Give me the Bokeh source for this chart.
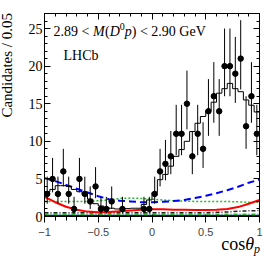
import numpy as np
from bokeh.plotting import figure
from bokeh.models import Range1d, LinearAxis, FixedTicker, Label, Div
from bokeh.layouts import column, row
from bokeh.embed import file_html
from bokeh.resources import INLINE

# ---- data ----
bin_edges = [round(-1 + 0.05 * i, 3) for i in range(41)]
counts = [3, 5, 3, 6, 3, 1, 5, 3, 2, 4,
          1, 1, 2, 0, 1, 0, 0, 0, 1, 1,
          3, 6, 7, 8, 11, 11, 15, 8, 11, 9,
          14, 16, 14, 20, 20, 19, 21, 12, 16, 11]
fit_total = [3.3, 3.6, 4.1, 4.1, 4.0, 3.6, 3.3, 2.9, 2.3, 1.7,
             1.4, 1.2, 1.1, 1.0, 1.0, 1.05, 1.1, 1.1, 1.6, 2.2,
             3.2, 4.9, 5.6, 6.7, 8.0, 8.9, 10.0, 11.3, 12.4, 13.3,
             14.1, 15.2, 16.4, 17.0, 17.7, 17.0, 16.6, 15.5, 14.8, 13.9]
curve_x = [-1.0, -0.9, -0.8, -0.7, -0.6, -0.5, -0.4, -0.3, -0.2, -0.1, 0.0,
           0.1, 0.2, 0.3, 0.4, 0.5, 0.6, 0.7, 0.8, 0.9, 1.0]
blue_dashed = [5.1, 4.7, 4.2, 3.7, 3.2, 2.7, 2.3, 2.1, 2.0, 1.9, 1.9,
               1.95, 2.05, 2.2, 2.45, 2.75, 3.1, 3.5, 3.95, 4.5, 4.9]
red_solid = [2.6, 1.9, 1.3, 0.9, 0.65, 0.55, 0.6, 0.7, 0.8, 0.9, 0.95,
             0.95, 0.9, 0.9, 0.85, 0.85, 0.9, 1.0, 1.25, 1.7, 2.2]
green_dotted = [2.0, 2.0, 2.0, 2.0, 2.0, 2.1, 2.2, 2.4, 2.45, 2.4, 2.3,
                2.2, 2.1, 2.05, 2.0, 2.0, 2.0, 2.0, 1.95, 1.9, 1.9]
black_dashdot = [0.5, 0.5, 0.5, 0.5, 0.5, 0.5, 0.5, 0.5, 0.5, 0.5, 0.5,
                 0.5, 0.5, 0.5, 0.5, 0.5, 0.55, 0.6, 0.7, 0.75, 0.8]
green_dashdot = [0.3] * 21
blue_solid = [0.1] * 21
x_ticks = [-1, -0.5, 0, 0.5, 1]
x_tick_labels = ["\u22121", "\u22120.5", "0", "0.5", "1"]
y_ticks = [0, 5, 10, 15, 20, 25]
y_tick_labels = ["0", "5", "10", "15", "20", "25"]
y_title = "Candidates / 0.05"

FONT = "Liberation Serif"
YDIV_W = 14

p = figure(width=274 - YDIV_W, height=238, x_range=Range1d(-1, 1), y_range=Range1d(0, 27),
           output_backend="svg", toolbar_location=None, margin=0,
           min_border_left=44 - YDIV_W, min_border_right=15, min_border_top=13, min_border_bottom=21)
p.xgrid.visible = False
p.ygrid.visible = False
p.outline_line_color = "black"
p.outline_line_width = 1
p.background_fill_color = "white"
p.border_fill_color = "white"

centers = np.array(bin_edges[:-1]) + 0.025
cnt = np.array(counts, dtype=float)

# curves
p.line(curve_x, blue_solid, line_color="#0000ff", line_width=2)
p.line(curve_x, green_dashdot, line_color="#22bb22", line_width=1.5, line_dash="4 2 1 2")
p.line(curve_x, black_dashdot, line_color="#222222", line_width=1.5, line_dash="4 2 1 2")
p.line(curve_x, green_dotted, line_color="#22bb22", line_width=1.5, line_dash="2 2")
p.line(curve_x, red_solid, line_color="#ff0000", line_width=2)
p.line(curve_x, blue_dashed, line_color="#0000ff", line_width=2, line_dash="7 4")

# fit histogram
p.step(bin_edges, fit_total + [fit_total[-1]], mode="after", line_color="black", line_width=1)

# data points with poisson errors
nz = cnt > 0
up = 0.5 + np.sqrt(cnt + 0.25)
dn = -0.5 + np.sqrt(cnt + 0.25)
p.segment(x0=centers[nz], y0=(cnt - dn)[nz], x1=centers[nz], y1=(cnt + up)[nz],
          line_color="black", line_width=1)
p.scatter(centers[nz], cnt[nz], size=5.5, fill_color="black", line_color="black")

# axes
xminor = [round(-1 + 0.1 * i, 2) for i in range(21)]
yminor = list(range(0, 28))
p.xaxis.ticker = FixedTicker(ticks=x_ticks, minor_ticks=xminor)
p.yaxis.ticker = FixedTicker(ticks=y_ticks, minor_ticks=yminor)
p.xaxis.major_label_overrides = {t: l for t, l in zip(x_ticks, x_tick_labels)}
p.yaxis.major_label_overrides = {t: l for t, l in zip(y_ticks, y_tick_labels)}
top = LinearAxis(ticker=FixedTicker(ticks=x_ticks, minor_ticks=xminor))
right = LinearAxis(ticker=FixedTicker(ticks=y_ticks, minor_ticks=yminor))
p.add_layout(top, "above")
p.add_layout(right, "right")
for ax in [p.xaxis[0], p.yaxis[0], top, right]:
    ax.major_tick_in = 6
    ax.major_tick_out = 0
    ax.minor_tick_in = 3
    ax.minor_tick_out = 0
    ax.axis_line_color = "black"
    ax.major_tick_line_color = "black"
    ax.minor_tick_line_color = "black"
    ax.major_label_text_font = FONT
    ax.major_label_text_font_size = "14px"
    ax.major_label_text_color = "black"
top.major_label_overrides = {t: "" for t in x_ticks}
right.major_label_overrides = {t: "" for t in y_ticks}
for ax in [top, right]:
    ax.major_label_text_color = None
    ax.major_label_text_font_size = "1px"
    ax.major_label_standoff = 0
p.xaxis[0].major_label_standoff = 3
p.yaxis[0].major_label_standoff = 2


def dx(px):
    return (px - 44) / 107.5 - 1


def dy(py):
    return (217 - py) / 7.56


def lab(text, px, py, size, style="normal"):
    p.add_layout(Label(x=dx(px), y=dy(py), text=text, text_font=FONT,
                       text_font_size=f"{size}px", text_font_style=style,
                       text_color="black", text_baseline="alphabetic", text_align="left"))


# title: 2.89 < M(D0p) < 2.90 GeV
lab("2.89 < ", 53, 31, 14)
lab("M", 92.4, 31, 14, "italic")
lab("(", 104.6, 31, 14)
lab("D", 109.2, 31, 14, "italic")
lab("0", 119.3, 26, 10)
lab("p", 124.3, 31, 14, "italic")
lab(") < 2.90 GeV", 131.3, 31, 14)
lab("LHCb", 63, 55, 14)

# y axis title: rotated text, right-aligned to the top of the frame
ylabel = Div(
    text=("<div style=\"position:relative;width:%dpx;height:238px;overflow:visible\">"
          "<div style=\"position:absolute;left:0px;top:217px;width:204px;height:15px;"
          "line-height:15px;text-align:right;white-space:nowrap;transform-origin:0 0;"
          "transform:rotate(-90deg);font-family:'Liberation Serif';font-size:15px;color:black\">"
          "%s</div></div>") % (YDIV_W, y_title),
    width=YDIV_W, height=238, margin=0)

# x axis title below the figure
xlabel = Div(
    text=("<div style=\"position:relative;width:274px;height:22px;overflow:visible\">"
          "<span style=\"position:absolute;right:14px;top:-3px;white-space:nowrap;"
          "font-family:'Liberation Serif';font-size:18px;line-height:18px;color:black\">"
          "cos<i>&theta;</i><sub style=\"font-size:12px;line-height:0;vertical-align:-3px\"><i>p</i></sub>"
          "</span></div>"),
    width=274, height=22, margin=0)

layout = column(row(ylabel, p, spacing=0, margin=0), xlabel, spacing=0, margin=0)
open("out.html", "w").write(file_html(layout, INLINE))
